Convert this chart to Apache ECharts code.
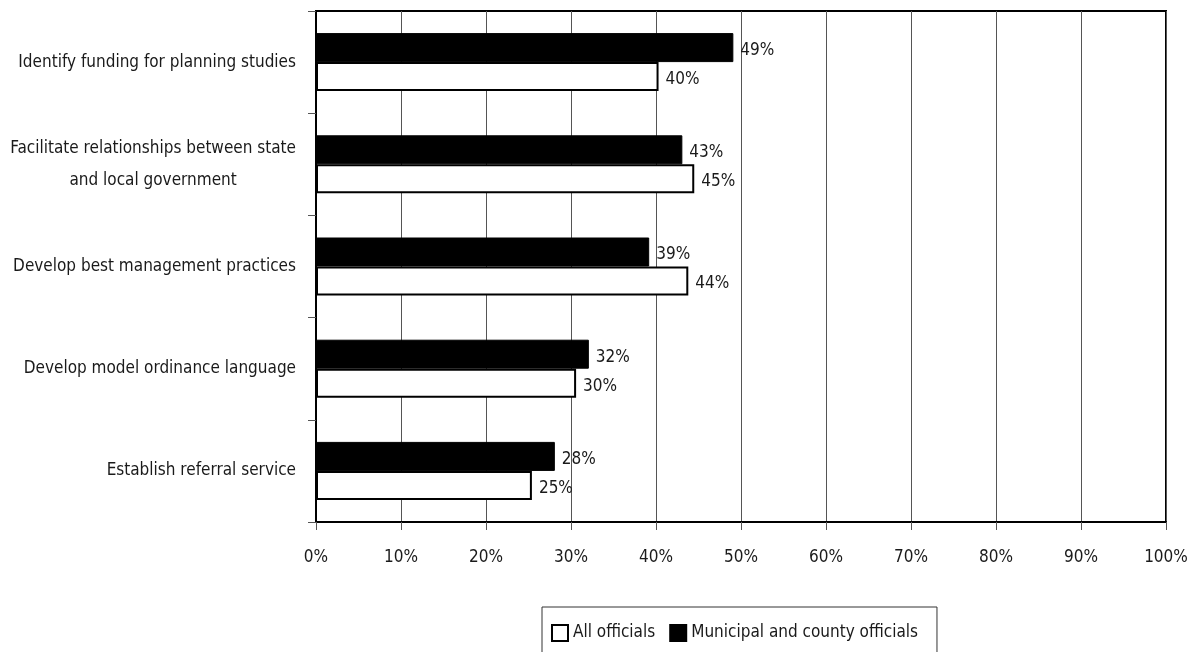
<!DOCTYPE html>
<html>
<head>
<meta charset="utf-8">
<script src="https://cdn.jsdelivr.net/npm/echarts@6/dist/echarts.min.js"></script>
<style>
html,body{margin:0;padding:0;background:#fff;}
#chart{width:1192px;height:652px;}
</style>
</head>
<body>
<div id="chart"></div>
<script>
const categories = [
  'Identify funding for planning studies',
  'Facilitate relationships between state\nand local government',
  'Develop best management practices',
  'Develop model ordinance language',
  'Establish referral service'
];
const municipalValues = [49.1, 43.1, 39.2, 32.1, 28.1];
const municipalLabels = ['49%', '43%', '39%', '32%', '28%'];
const allValues = [40.3, 44.5, 43.8, 30.6, 25.4];
const allLabels = ['40%', '45%', '44%', '30%', '25%'];
const xTicks = [0, 10, 20, 30, 40, 50, 60, 70, 80, 90, 100];

const FONT = '"DejaVu Sans Condensed", "Liberation Sans Narrow", sans-serif';
const TXT = '#1a1a1a';

const chart = echarts.init(document.getElementById('chart'), null, {renderer: 'canvas'});
chart.setOption({
  animation: false,
  backgroundColor: '#fff',
  textStyle: {fontFamily: FONT, color: TXT},
  grid: {
    left: 316, right: 26, top: 11, bottom: 130,
    containLabel: false, outerBoundsMode: 'none',
    show: true, borderColor: '#000', borderWidth: 2, backgroundColor: 'transparent'
  },
  legend: {
    data: ['All officials', 'Municipal and county officials'],
    left: 542, top: 607,
    itemWidth: 16, itemHeight: 16, itemGap: 14,
    padding: [17, 19, 17, 9],
    borderColor: '#333', borderWidth: 1,
    textStyle: {fontFamily: FONT, fontSize: 17, color: TXT},
    icon: 'rect'
  },
  xAxis: {
    type: 'value', min: 0, max: 100, interval: 10,
    axisLine: {show: true, lineStyle: {color: '#000', width: 2}},
    axisTick: {show: true, length: 8, lineStyle: {color: '#555', width: 1}},
    axisLabel: {
      margin: 27, fontFamily: FONT, fontSize: 17, color: TXT,
      formatter: function (v) { return xTicks.indexOf(v) >= 0 ? v + '%' : ''; }
    },
    splitLine: {show: true, lineStyle: {color: '#555', width: 1}}
  },
  yAxis: {
    type: 'category', data: categories, inverse: true,
    axisLine: {show: true, lineStyle: {color: '#000', width: 2}},
    axisTick: {show: true, length: 8, lineStyle: {color: '#555', width: 1}},
    axisLabel: {
      margin: 20, fontFamily: FONT, fontSize: 17, color: TXT, lineHeight: 32,
      formatter: function (v) {
        return v.split('\n').map(function (s) { return '{c|' + s + '}'; }).join('\n');
      },
      rich: {c: {align: 'center', fontFamily: FONT, fontSize: 17, color: TXT, lineHeight: 32}}
    },
    splitLine: {show: false}
  },
  series: [
    {
      name: 'Municipal and county officials', type: 'bar',
      data: municipalValues, barWidth: 29, barGap: '0%',
      itemStyle: {color: '#000', borderColor: '#000', borderWidth: 1},
      label: {
        show: true, position: 'right', distance: 7, offset: [0, 3],
        fontFamily: FONT, fontSize: 17, color: TXT,
        formatter: function (p) { return municipalLabels[p.dataIndex]; }
      }
    },
    {
      name: 'All officials', type: 'bar',
      data: allValues, barWidth: 29, barGap: '0%',
      itemStyle: {color: '#fff', borderColor: '#000', borderWidth: 2},
      label: {
        show: true, position: 'right', distance: 7, offset: [0, 3],
        fontFamily: FONT, fontSize: 17, color: TXT,
        formatter: function (p) { return allLabels[p.dataIndex]; }
      }
    }
  ]
});
</script>
</body>
</html>
